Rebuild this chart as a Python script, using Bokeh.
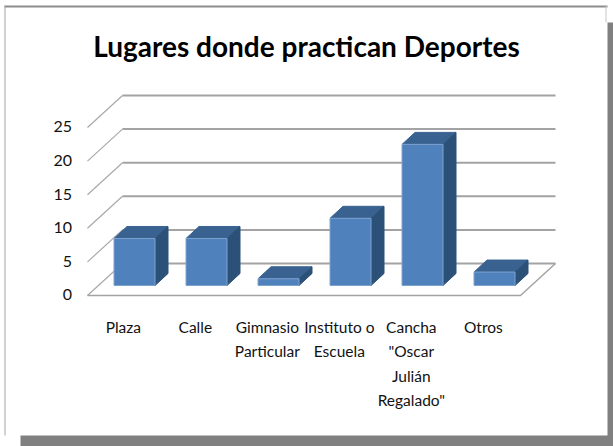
from bokeh.plotting import figure
from bokeh.models import Range1d, BoxAnnotation
from bokeh.core.properties import value
from bokeh.embed import file_html
from bokeh.resources import INLINE

# ---- data ----
title_text = "Lugares donde practican Deportes"
categories = ["Plaza", "Calle", "Gimnasio\nParticular", "Instituto o\nEscuela",
              "Cancha\n\"Oscar\nJulián\nRegalado\"", "Otros"]
values = [7, 7, 1, 10, 21, 2]
ticks = [0, 5, 10, 15, 20, 25]

# ---- layout constants ----
W, H = 613, 446
PX_CAT, PX_VAL = 72.0, 6.72     # pixels per category, pixels per value
X0_PX, Y0_PX = 134.0, 285.0     # pixel of category 0 / value 0 on the bar plane
HALF = 20.5 / PX_CAT
BAR_DX, BAR_DY = 13 / PX_CAT, 12 / PX_VAL
FRONT_Y, BACK_Y = -10 / PX_VAL, 22 / PX_VAL
FL, BL, BR, FR = -0.653, -0.167, 5.847, 5.361
FONT = "Lato"

p = figure(width=W, height=H, output_backend="svg", toolbar_location=None,
           x_axis_location=None, y_axis_location=None, min_border=0,
           x_range=Range1d(-X0_PX / PX_CAT, (W - X0_PX) / PX_CAT),
           y_range=Range1d((Y0_PX - H) / PX_VAL, Y0_PX / PX_VAL))
p.grid.visible = False
p.outline_line_color = None
p.background_fill_color = "white"
p.border_fill_color = "white"

# frame and drop shadow (pixels measured from the top left of the page)
SHADOW, FRAME = "#808080", "#a6a6a6"
for l, r, t, b, c in [(607, 613, 22, 446, SHADOW), (20, 613, 435, 446, SHADOW),
                      (4, 607, 5, 7, "#8c8c8c"), (4, 5, 5, 435, FRAME),
                      (605, 606, 5, 22, "#c8c8c8")]:
    p.add_layout(BoxAnnotation(left=l, right=r, top=H - t, bottom=H - b,
                               left_units="screen", right_units="screen",
                               top_units="screen", bottom_units="screen",
                               fill_color=c, fill_alpha=1, line_color=None,
                               level="underlay"))

# walls: gridlines and depth lines at every tick
GRID = "#a3a3a3"
p.multi_line([[BL, BR] for _ in ticks],
             [[t + BACK_Y, t + BACK_Y] for t in ticks],
             line_color=GRID, line_width=2)
p.multi_line([[FL, BL] for _ in ticks],
             [[t + FRONT_Y, t + BACK_Y] for t in ticks],
             line_color="#a8a8a8", line_width=1.2)
# floor
p.line([FL, FR, BR], [FRONT_Y, FRONT_Y, BACK_Y], line_color=GRID, line_width=1.5)

# bars
xs = list(range(len(values)))
top_x, top_y, side_x, side_y = [], [], [], []
for x, v in zip(xs, values):
    l, r = x - HALF, x + HALF
    top_x.append([l, r, r + BAR_DX, l + BAR_DX])
    top_y.append([v, v, v + BAR_DY, v + BAR_DY])
    side_x.append([r, r + BAR_DX, r + BAR_DX, r])
    side_y.append([0, BAR_DY, v + BAR_DY, v])
p.patches(top_x, top_y, fill_color="#3a6291", line_color="#3a6291", line_width=1)
p.patches(side_x, side_y, fill_color="#2c5179", line_color="#2c5179", line_width=1)
p.vbar(x=xs, width=2 * HALF, top=values, bottom=0, fill_color="#4f81bd",
       line_color="#7fa3cf", line_width=1)

# value labels
p.text(x=[FL - 0.215] * len(ticks), y=[t + FRONT_Y + 0.1 for t in ticks],
       text=[str(t) for t in ticks], text_font=value(FONT), text_font_size="16px",
       text_color="#111111", text_align="right", text_baseline="middle")

# category labels, one text per line
LINE_PX = 24.5
lx, ly, lt = [], [], []
for x, c in zip(xs, categories):
    for i, part in enumerate(c.split("\n")):
        lx.append(x - 0.155)
        ly.append((Y0_PX - 326 - i * LINE_PX) / PX_VAL)
        lt.append(part)
p.text(x=lx, y=ly, text=lt, text_font=value(FONT), text_font_size="15.5px",
       text_color="#111111", text_align="center", text_baseline="middle")

# title
p.text(x=[(306 - X0_PX) / PX_CAT], y=[(Y0_PX - 45) / PX_VAL], text=[title_text],
       text_font=value(FONT), text_font_style="bold", text_font_size="28px",
       text_color="#000000", text_align="center", text_baseline="middle")

html = file_html(p, INLINE)
html = html.replace("<head>", "<head><style>html,body{margin:0;padding:0;overflow:hidden}</style>", 1)
open("out.html", "w").write(html)
